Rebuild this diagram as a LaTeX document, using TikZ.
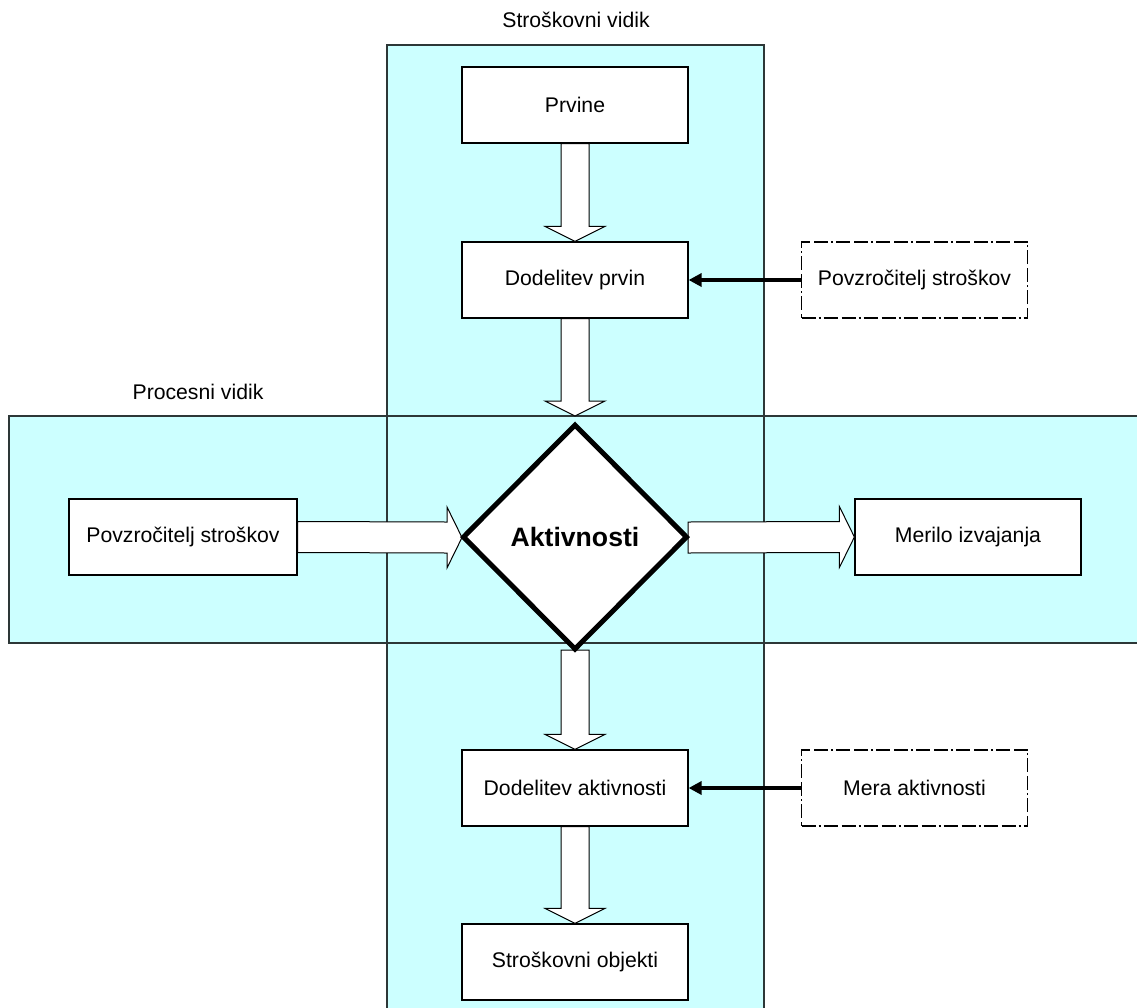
\documentclass[tikz,border=0pt]{standalone}
\usepackage{fontspec}
\setmainfont{Liberation Sans}
\usetikzlibrary{shapes.geometric,arrows.meta,calc}
\definecolor{bandcyan}{RGB}{204,255,255}
\definecolor{bandline}{RGB}{45,55,55}
\newcommand\BlkDown[2]{\draw[blk] ($(#1)+(-14,0)$) -- ($(#2)+(-14,-15)$) -- ($(#2)+(-30,-15)$) -- (#2) -- ($(#2)+(30,-15)$) -- ($(#2)+(14,-15)$) -- ($(#1)+(14,0)$) -- cycle;}
\newcommand\BlkRight[2]{\draw[blk] ($(#1)+(0,-15.5)$) -- ($(#2)+(-15,-15.5)$) -- ($(#2)+(-15,-30.5)$) -- (#2) -- ($(#2)+(-15,30.5)$) -- ($(#2)+(-15,15.5)$) -- ($(#1)+(0,15.5)$) -- cycle;}
\tikzset{
  box/.style={draw, fill=white, line width=0.6pt, minimum width=113pt, minimum height=38pt, inner sep=0pt, font=\fontsize{10.6}{12}\selectfont},
  dbox/.style={box, dash pattern=on 7pt off 1.5pt on 1pt off 1.5pt on 7pt off 2pt},
  blk/.style={draw, fill=white, line width=0.5pt},
  band/.style={draw=bandline, line width=0.6pt},
  thinarr/.style={line width=1.7pt, -{Triangle[length=6.5pt,width=6.5pt]}},
  lbl/.style={font=\fontsize{10.6}{12}\selectfont, inner sep=0pt}
}
\begin{document}
\begin{tikzpicture}[x=0.5pt,y=-0.5pt]
\useasboundingbox (0,0) rectangle (1137,1008);
\clip (0,0) rectangle (1137,1008);
% bands
\fill[bandcyan] (387,45) rectangle (764,1012);
\fill[bandcyan] (9,416) rectangle (1141,643);
\draw[band] (387,1012) -- (387,45) -- (764,45) -- (764,1012);
\draw[band] (1141,416) -- (9,416) -- (9,643) -- (1141,643);
\node[lbl] (lsv) at (576,20) {Stroškovni vidik};
\node[lbl] (lpv) at (198,392) {Procesni vidik};
% nodes
\node[box] (prv) at (575,105) {Prvine};
\node[box] (dp) at (575,280) {Dodelitev prvin};
\node[dbox] (pz1) at (914.5,280) {Povzročitelj stroškov};
\node[box, minimum width=114pt] (pz2) at (183,537) {Povzročitelj stroškov};
\node[box] (mer) at (968,537) {Merilo izvajanja};
\node[box] (da) at (575,788) {Dodelitev aktivnosti};
\node[dbox] (ma) at (914.5,788) {Mera aktivnosti};
\node[box] (so) at (575,962) {Stroškovni objekti};
\coordinate (dtop) at (575,416);
\coordinate (dleft) at (462,537.5);
\coordinate (dright) at (688,537.5);
\coordinate (dbot) at (575,650);
% block arrows
\BlkDown{prv.south}{dp.north}
\BlkDown{dp.south}{dtop}
\BlkRight{pz2.east}{dleft}
\BlkRight{dright}{mer.west}
\BlkDown{dbot}{da.north}
\BlkDown{da.south}{so.north}
% diamond
\node[draw, fill=white, shape=diamond, line width=2.5pt, minimum width=112.5pt, minimum height=113pt, inner sep=0pt, font=\fontsize{13.3}{15}\bfseries\selectfont] (act) at (575,537) {Aktivnosti};
% thin arrows
\draw[thinarr] (pz1.west) -- (dp.east);
\draw[thinarr] (ma.west) -- (da.east);
\end{tikzpicture}
\end{document}
